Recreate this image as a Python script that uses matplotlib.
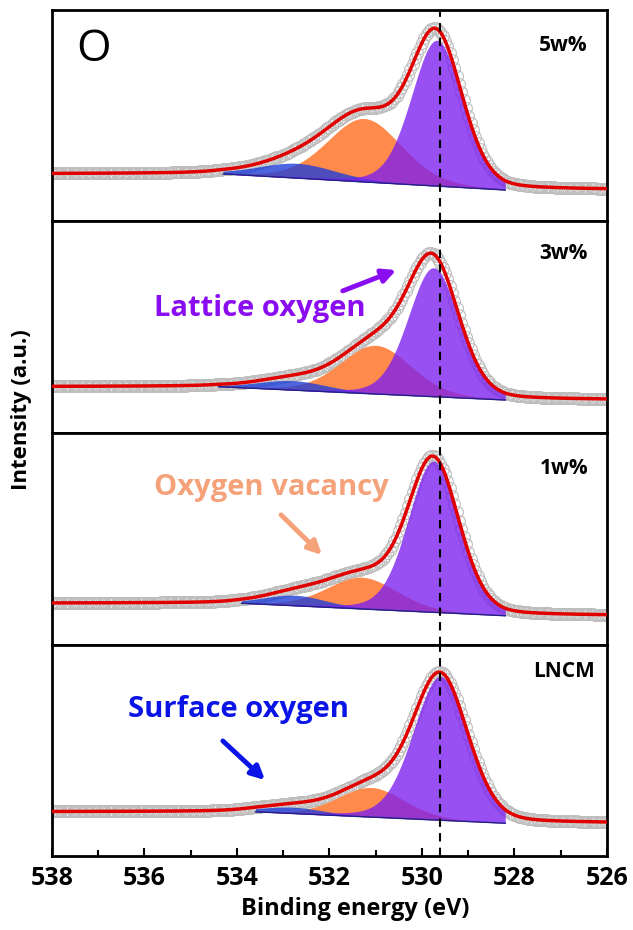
import numpy as np
import matplotlib.pyplot as plt
from matplotlib.ticker import MultipleLocator

plt.rcParams['font.family'] = ['Open Sans', 'DejaVu Sans']

# panels, top to bottom
samples = ['5w%', '3w%', '1w%', 'LNCM']

# background level on high / low binding-energy side (panel fraction)
bg_high = [0.225, 0.219, 0.195, 0.209]
bg_low = [0.149, 0.156, 0.136, 0.155]
# fitting window (eV)
fit_start = [534.3, 534.4, 533.9, 533.6]
fit_end = [528.2, 528.2, 528.2, 528.2]

# fitted peaks: centre (eV), height, FWHM (eV)
surface_center = [532.7, 532.8, 532.75, 532.8]
surface_height = [0.07, 0.045, 0.05, 0.03]
surface_fwhm = [2.0, 1.8, 1.6, 1.6]

vacancy_center = [531.25, 531.0, 531.3, 531.1]
vacancy_height = [0.30, 0.23, 0.15, 0.14]
vacancy_fwhm = [1.9, 1.8, 1.8, 1.7]

lattice_center = [529.68, 529.75, 529.75, 529.6]
lattice_height = [0.69, 0.61, 0.715, 0.68]
lattice_fwhm = [1.3, 1.3, 1.3, 1.4]
lorentz_frac = 0.2

ref_line = 529.6
energy = np.linspace(526, 538, 241)


def pseudo_voigt(x, c, h, w):
    g = np.exp(-4 * np.log(2) * (x - c) ** 2 / w ** 2)
    l = 1 / (1 + 4 * (x - c) ** 2 / w ** 2)
    return h * ((1 - lorentz_frac) * g + lorentz_frac * l)


fig = plt.figure(figsize=(6.33, 9.3), dpi=100)
gs = fig.add_gridspec(4, 1, left=52 / 633, right=607 / 633,
                      top=1 - 10 / 930, bottom=1 - 856 / 930, hspace=0)
axes = [fig.add_subplot(gs[i]) for i in range(4)]

label_y = [0.834, 0.851, 0.834, 0.87]

for i, ax in enumerate(axes):
    bg = np.interp(energy, [fit_end[i], fit_start[i]], [bg_low[i], bg_high[i]])
    surf = pseudo_voigt(energy, surface_center[i], surface_height[i], surface_fwhm[i])
    vac = pseudo_voigt(energy, vacancy_center[i], vacancy_height[i], vacancy_fwhm[i])
    lat = pseudo_voigt(energy, lattice_center[i], lattice_height[i], lattice_fwhm[i])
    total = bg + surf + vac + lat
    m = (energy >= fit_end[i]) & (energy <= fit_start[i])

    ax.plot(energy, total, 'o', mfc='none', mec='#bdbdbd', ms=8.5, mew=0.8, zorder=1)
    ax.fill_between(energy[m], bg[m], bg[m] + vac[m], color='#FF8A4C', lw=0, zorder=2)
    ax.fill_between(energy[m], bg[m], bg[m] + surf[m], color='#2040D8', alpha=0.8, lw=0, zorder=3)
    ax.fill_between(energy[m], bg[m], bg[m] + lat[m], color='#7B1FF0', alpha=0.78, lw=0, zorder=4)
    ax.plot(energy[m], bg[m], color='#20208a', lw=1, zorder=5)
    ax.plot(energy, total, color='#E00000', lw=2.5, zorder=6)
    ax.axvline(ref_line, color='k', ls=(0, (4, 3)), lw=1.5, zorder=7)

    ax.set_xlim(538, 526)
    ax.set_ylim(0, 1)
    ax.set_yticks([])
    for s in ax.spines.values():
        s.set_linewidth(2)
    ax.text(0.922, label_y[i], samples[i], transform=ax.transAxes, ha='center', va='center',
            fontsize=15, fontweight='bold')
    if i < 3:
        ax.tick_params(axis='x', bottom=False, labelbottom=False)

axes[0].text(0.074, 0.81, 'O', transform=axes[0].transAxes, ha='center', va='center', fontsize=32)

bot = axes[3]
bot.xaxis.set_major_locator(MultipleLocator(2))
bot.xaxis.set_minor_locator(MultipleLocator(1))
bot.tick_params(axis='x', which='major', direction='in', length=6, width=1.5, labelsize=18, pad=7)
bot.tick_params(axis='x', which='minor', direction='in', length=4, width=1.5)
for t in bot.get_xticklabels():
    t.set_fontweight('bold')

fig.text(355 / 633, 1 - 909 / 930, 'Binding energy (eV)', ha='center', va='center',
         fontsize=17, fontweight='bold')
fig.text(22 / 633, 1 - 410 / 930, 'Intensity (a.u.)', rotation=90, ha='center', va='center',
         fontsize=16, fontweight='bold')

# annotations
axes[1].annotate('', xy=(530.5, 0.775), xytext=(531.77, 0.667),
                 arrowprops=dict(arrowstyle='-|>', color='#8A0CF0', lw=3.5, mutation_scale=20))
axes[1].text(533.5, 0.591, 'Lattice oxygen', color='#8A0CF0', ha='center', va='center',
             fontsize=21, fontweight='bold')

axes[2].annotate('', xy=(532.12, 0.414), xytext=(533.09, 0.622),
                 arrowprops=dict(arrowstyle='-|>', color='#F5A27A', lw=3.5, mutation_scale=20))
axes[2].text(533.26, 0.743, 'Oxygen vacancy', color='#F5A27A', ha='center', va='center',
             fontsize=21, fontweight='bold')

axes[3].annotate('', xy=(533.35, 0.35), xytext=(534.35, 0.553),
                 arrowprops=dict(arrowstyle='-|>', color='#0A14E6', lw=3.5, mutation_scale=20))
axes[3].text(533.96, 0.695, 'Surface oxygen', color='#0A14E6', ha='center', va='center',
             fontsize=21, fontweight='bold')

fig.savefig('out.png', dpi=100)
